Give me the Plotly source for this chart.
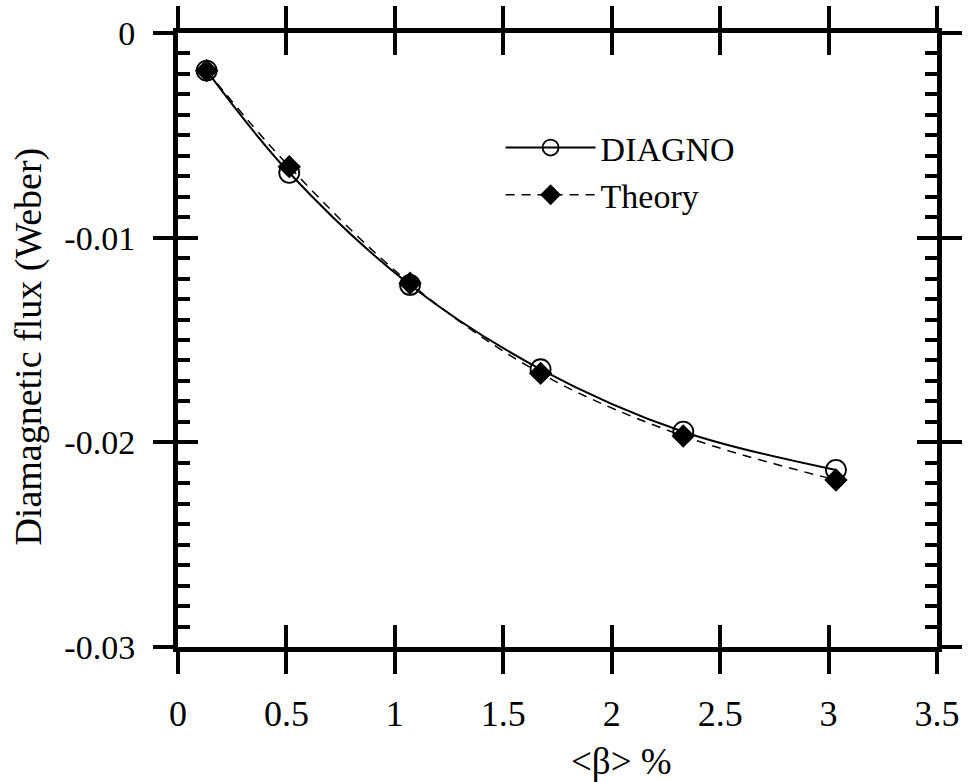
import plotly.graph_objects as go

beta = [0.132, 0.513, 1.07, 1.672, 2.33, 3.034]
diagno = [-0.00184, -0.00683, -0.01231, -0.01643, -0.01948, -0.02135]
theory = [-0.00184, -0.00653, -0.01223, -0.01663, -0.01969, -0.02184]

xtick_vals = [0, 0.5, 1, 1.5, 2, 2.5, 3, 3.5]
xtick_text = ["0", "0.5", "1", "1.5", "2", "2.5", "3", "3.5"]
ytick_vals = [0, -0.01, -0.02, -0.03]
ytick_text = ["0", "-0.01", "-0.02", "-0.03"]
x_title = "<β> %"
y_title = "Diamagnetic flux (Weber)"

FONT = "Liberation Serif"

fig = go.Figure()
fig.add_trace(go.Scatter(
    x=beta, y=diagno, name="DIAGNO", mode="lines+markers",
    line=dict(color="black", width=2, shape="spline"),
    marker=dict(symbol="circle-open", size=20, color="black", line=dict(width=1.8)),
))
fig.add_trace(go.Scatter(
    x=beta, y=theory, name="Theory", mode="lines+markers",
    xaxis="x2", yaxis="y2",
    line=dict(color="black", width=1.5, dash="9px,7px", shape="spline"),
    marker=dict(symbol="diamond", size=18, color="black"),
))

axis_common = dict(showline=True, linecolor="black", linewidth=5, mirror="ticks",
                   showgrid=False, zeroline=False, tickcolor="black", tickwidth=4,
                   automargin=False)

fig.update_layout(
    width=968, height=782,
    margin=dict(l=178, r=31, t=33, b=135),
    paper_bgcolor="white", plot_bgcolor="white",
    font=dict(family=FONT, color="black"),
    xaxis=dict(range=[0, 3.5], tickmode="array", tickvals=xtick_vals, ticktext=xtick_text,
               ticks="outside", ticklen=22, tickfont=dict(size=36, family=FONT),
               ticklabelstandoff=9, **axis_common),
    yaxis=dict(range=[-0.03, 0], tickmode="array", tickvals=ytick_vals, ticktext=ytick_text,
               ticks="outside", ticklen=20, tickfont=dict(size=34, family=FONT),
               ticklabelstandoff=11, **axis_common),
    xaxis2=dict(range=[0, 3.5], overlaying="x", side="bottom", tickmode="array",
                tickvals=xtick_vals, showticklabels=False, ticks="inside", ticklen=22,
                **axis_common),
    yaxis2=dict(range=[-0.03, 0], overlaying="y", side="left", tickmode="array",
                tickvals=ytick_vals, showticklabels=False, ticks="inside", ticklen=20,
                minor=dict(ticks="inside", ticklen=12, tickwidth=4, tickcolor="black", dtick=0.001,
                           tick0=0, showgrid=False),
                **axis_common),
    showlegend=True,
    legend=dict(x=0.425, y=0.86, xanchor="left", yanchor="top", bgcolor="rgba(0,0,0,0)",
                font=dict(size=34, family=FONT), itemwidth=90, tracegroupgap=0),
    annotations=[
        dict(text=x_title, xref="paper", yref="paper", x=0.584, y=-0.187,
             xanchor="center", yanchor="middle", showarrow=False,
             font=dict(size=37, family=FONT, color="black")),
        dict(text=y_title, xref="paper", yref="paper", x=-0.197, y=0.49, textangle=-90,
             xanchor="center", yanchor="middle", showarrow=False,
             font=dict(size=38, family=FONT, color="black")),
    ],
)

fig.write_html("out.html", config={"displayModeBar": False},
               post_script="document.body.style.margin='0px';")
